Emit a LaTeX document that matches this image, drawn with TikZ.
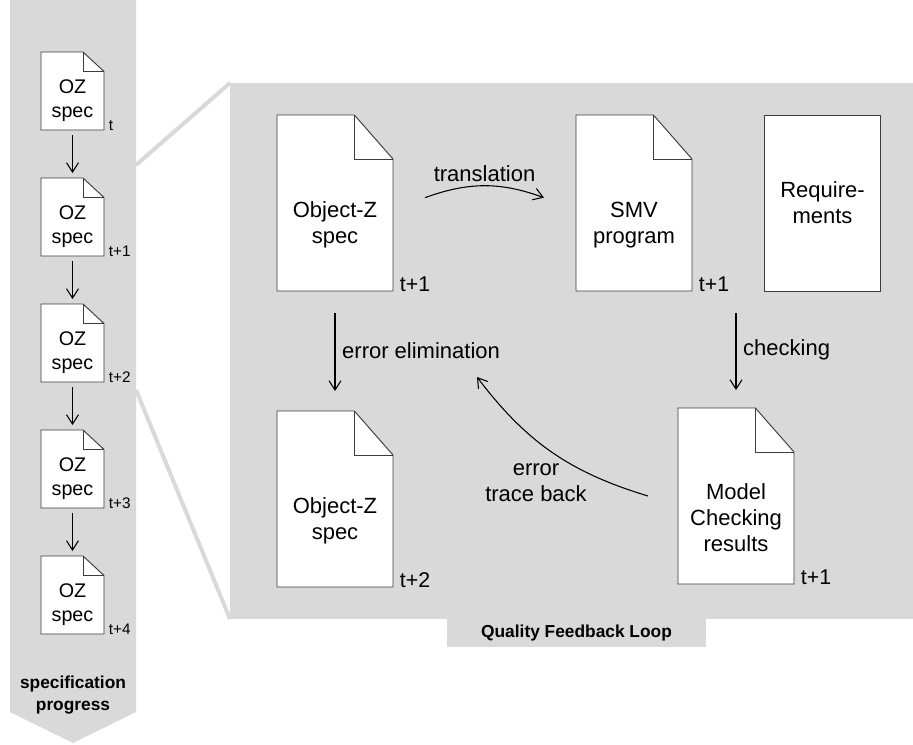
\documentclass[tikz,border=0pt]{standalone}
\usepackage{fontspec}
\setmainfont{Liberation Sans}
\usepackage{tikz}
\usetikzlibrary{arrows.meta, positioning, calc}
\definecolor{loopgray}{RGB}{217,217,217}
\definecolor{edgegray}{RGB}{60,60,60}
\tikzset{
    bigpage/.style={rectangle, minimum width=87pt, minimum height=132pt, inner sep=0pt, outer sep=0pt},
    smallpage/.style={rectangle, minimum width=47.25pt, minimum height=58.5pt, inner sep=0pt, outer sep=0pt},
    pageedge/.style={draw=edgegray, fill=white, line width=0.7pt},
    bigtext/.style={font=\fontsize{16.5}{19.5}\selectfont, align=center},
    smalltext/.style={font=\fontsize{14.8}{18}\selectfont, align=center},
    bigstamp/.style={font=\fontsize{16}{19}\selectfont, anchor=base west, inner sep=0pt},
    smallstamp/.style={font=\fontsize{11.5}{13}\selectfont, anchor=base west, inner sep=0pt},
    flowarrow/.style={-{Straight Barb[length=7pt, width=9pt]}, line width=0.8pt, black},
    zoomline/.style={loopgray, line width=3pt},
    banner/.style={font=\bfseries\fontsize{13}{16}\selectfont, align=center},
    loopbox/.style={fill=loopgray, inner sep=0pt, outer sep=0pt}
}
\newcommand{\specpage}[5]{%
  \path node[#1] (#3) at (#4) {};
  \path[pageedge] (#3.south west) -- (#3.north west) -- ($(#3.north west)!.667!(#3.north east)$) -- ($(#3.north east)!.25!(#3.south east)$) -- (#3.south east) -- cycle;
  \draw[pageedge, fill=none] ($(#3.north west)!.667!(#3.north east)$) |- ($(#3.north east)!.25!(#3.south east)$);
  \node[#2] (#3-label) at ($(#3.center)!.25!(#3.south)$) {#5};
}
\begin{document}
\begin{tikzpicture}[x=0.75pt, y=-0.75pt]
\useasboundingbox (0,0) rectangle (913,744);

\fill[loopgray] (10,0) -- (136,0) -- (136,712) -- (73,743) -- (10,712) -- cycle;
\node[banner] (progress) at (73,695) {specification\\progress};

\node[loopbox, minimum width=512.25pt, minimum height=402pt, anchor=north west] (loop) at (230,83) {};
\node[loopbox, banner, minimum width=194.25pt, minimum height=21pt, anchor=north] (qfl) at (576.5,619) {Quality Feedback Loop};

\coordinate (zoomtop) at (136,165);
\coordinate (zoombot) at (136,390);
\draw[zoomline] (zoomtop) -- (loop.north west);
\draw[zoomline] (zoombot) -- (loop.south west);

\foreach \i/\stamp in {0/t, 1/t+1, 2/t+2, 3/t+3, 4/t+4} {
  \specpage{smallpage}{smalltext}{oz\i}{72.5,{91+126*\i}}{OZ\\spec}
  \node[smallstamp] at ([xshift=3.5pt]oz\i.south east) {\stamp};
}
\foreach \i [evaluate=\i as \j using int(\i+1)] in {0,...,3}
  \draw[flowarrow, shorten <=3.75pt, shorten >=3.75pt] (oz\i) -- (oz\j);

\specpage{bigpage}{bigtext}{ozA}{335,203}{Object-Z\\spec}
\specpage{bigpage}{bigtext}{smv}{634,203}{SMV\\program}
\node[bigpage, pageedge, bigtext] (req) at (822.5,203) {Require-\\ments};
\specpage{bigpage}{bigtext}{ozB}{335,499}{Object-Z\\spec}
\specpage{bigpage}{bigtext}{mc}{736,496}{Model\\Checking\\results}

\node[bigstamp] at ([xshift=5pt]ozA.south east) {t+1};
\node[bigstamp] at ([xshift=5pt]smv.south east) {t+1};
\node[bigstamp] at ([xshift=5pt]ozB.south east) {t+2};
\node[bigstamp] at ([xshift=5pt]mc.south east) {t+1};

\draw[flowarrow] ([shift={(24pt,4pt)}]ozA.east) to[bend left=20] node[above, inner sep=3pt, bigtext] {translation} ([shift={(-24pt,4pt)}]smv.west);
\draw[flowarrow, shorten <=16.5pt, shorten >=15pt] (ozA) -- (ozB) node[midway, right, inner sep=5pt, bigtext] {error elimination};
\draw[flowarrow, shorten <=16.5pt, shorten >=13.5pt] (mc.north |- smv.south) -- (mc.north) node[midway, right, inner sep=5pt, bigtext] {checking};

\coordinate (traceend) at (477,377);
\draw[flowarrow] ([xshift=-22.5pt]mc.west) to[bend left=18] (traceend);
\node[bigtext] (tracelabel) at (536,483) {error\\trace back};

\end{tikzpicture}
\end{document}
